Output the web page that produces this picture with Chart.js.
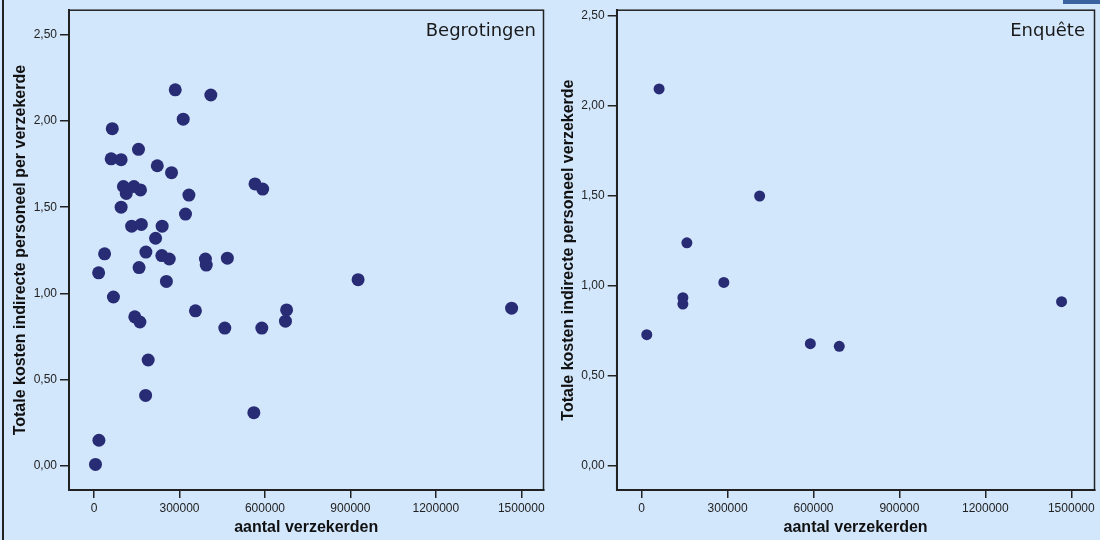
<!DOCTYPE html>
<html>
<head>
<meta charset="utf-8">
<script src="https://cdn.jsdelivr.net/npm/chart.js@4/dist/chart.umd.min.js"></script>
<style>
  body { margin: 0; background: #d3e7fc; width: 1100px; height: 540px; overflow: hidden; position: relative; }
  canvas { position: absolute; top: 0; }
  #c1 { left: 0; }
  #c2 { left: 550px; }
  .frame { position: absolute; left: 2px; top: 0; width: 2px; height: 540px; background: #222; }
  .corner { position: absolute; left: 1063px; top: 0; width: 37px; height: 4px; background: #3a64a0; }
</style>
</head>
<body>
<div class="frame"></div>
<div class="corner"></div>
<canvas id="c1" width="550" height="540"></canvas>
<canvas id="c2" width="550" height="540"></canvas>
<script>
// Begrotingen (left)
var begX = [5000, 17000, 16000, 37000, 68000, 95000, 132000, 166000, 239000, 216000,
            182000, 238000, 264000, 158000, 254000, 321000, 391000, 394000, 468000, 143000,
            161000, 356000, 459000, 589000, 676000, 672000, 190000, 181000, 561000, 64000,
            60000, 95000, 156000, 222000, 272000, 285000, 313000, 410000, 103000, 113000,
            140000, 163000, 333000, 565000, 592000, 927000, 1466000];
var begY = [0.01, 0.15, 1.12, 1.23, 0.98, 1.50, 1.39, 1.40, 1.39, 1.32,
            1.24, 1.22, 1.20, 1.15, 1.07, 1.46, 1.20, 1.165, 1.205, 0.865,
            0.835, 0.90, 0.80, 0.80, 0.905, 0.84, 0.615, 0.41, 0.31, 1.955,
            1.78, 1.775, 1.835, 1.74, 1.70, 2.18, 2.01, 2.15, 1.62, 1.58,
            1.62, 1.60, 1.57, 1.635, 1.605, 1.08, 0.915];

// Enquête (right)
var enqX = [18000, 61000, 144000, 144000, 158000, 287000, 412000, 589000, 690000, 1466000];
var enqY = [0.73, 2.095, 0.935, 0.90, 1.24, 1.02, 1.50, 0.68, 0.665, 0.913];

var xTicks = [0, 300000, 600000, 900000, 1200000, 1500000];
var yTicks = [0, 0.5, 1, 1.5, 2, 2.5];

var dotColor = '#282c74';
var ink = '#222';

function points(xs, ys) {
    return xs.map(function(x, i) { return { x: x, y: ys[i] }; });
}

var boxPlugin = {
    id: 'box',
    beforeDatasetsDraw: function(chart, args, opts) {
        var a = chart.chartArea, ctx = chart.ctx;
        ctx.save();
        ctx.strokeStyle = ink;
        ctx.lineWidth = 1.5;
        ctx.strokeRect(a.left, a.top, a.right - a.left, a.bottom - a.top);
        ctx.font = '18px "DejaVu Sans"';
        ctx.fillStyle = '#1a1a1a';
        ctx.textAlign = 'right';
        ctx.textBaseline = 'alphabetic';
        ctx.fillText(opts.text, opts.tx, opts.ty);
        ctx.restore();
    }
};

function makeChart(id, xs, ys, cfg) {
    var ctx = document.getElementById(id).getContext('2d');
    return new Chart(ctx, {
        type: 'scatter',
        data: {
            datasets: [{
                data: points(xs, ys),
                backgroundColor: dotColor,
                borderColor: dotColor,
                borderWidth: 0,
                pointRadius: cfg.radius,
                pointHoverRadius: cfg.radius
            }]
        },
        plugins: [boxPlugin],
        options: {
            responsive: false,
            animation: false,
            events: [],
            layout: { padding: { left: 0, top: 8.3, right: cfg.padRight, bottom: 0 } },
            plugins: {
                legend: { display: false },
                tooltip: { enabled: false },
                box: { text: cfg.label, tx: cfg.tx, ty: 36 }
            },
            scales: {
                x: {
                    type: 'linear',
                    min: cfg.xMin,
                    max: cfg.xMax,
                    afterBuildTicks: function(s) { s.ticks = xTicks.map(function(v) { return { value: v }; }); },
                    afterFit: function(s) { s.height = 50; },
                    border: { color: ink, width: 2 },
                    grid: { drawOnChartArea: false, drawTicks: true, tickLength: 8, color: ink, lineWidth: 1.5 },
                    ticks: {
                        padding: 3,
                        color: '#222',
                        maxRotation: 0,
                        autoSkip: false,
                        font: { family: '"Liberation Sans", Arial', size: 12 },
                        callback: function(v) { return String(v); }
                    },
                    title: {
                        display: true,
                        text: 'aantal verzekerden',
                        color: '#111',
                        padding: { top: 0, bottom: 3 },
                        font: { family: '"Liberation Sans", Arial', size: 16, weight: 'bold' }
                    }
                },
                y: {
                    type: 'linear',
                    min: cfg.yMin,
                    max: cfg.yMax,
                    afterBuildTicks: function(s) { s.ticks = yTicks.map(function(v) { return { value: v }; }); },
                    afterFit: function(s) { s.width = cfg.yWidth; },
                    border: { color: ink, width: 2 },
                    grid: { drawOnChartArea: false, drawTicks: true, tickLength: 9, color: ink, lineWidth: 1.5 },
                    ticks: {
                        padding: 3,
                        color: '#222',
                        autoSkip: false,
                        font: { family: '"Liberation Sans", Arial', size: 12 },
                        callback: function(v) { return v.toFixed(2).replace('.', ','); }
                    },
                    title: {
                        display: true,
                        text: cfg.yTitle,
                        color: '#111',
                        padding: { top: cfg.yTitlePad, bottom: 0 },
                        font: { family: '"Liberation Sans", Arial', size: 16, weight: 'bold' }
                    }
                }
            }
        }
    });
}

makeChart('c1', begX, begY, {
    radius: 6.5,
    label: 'Begrotingen', tx: 536,
    padRight: 1.7,
    yWidth: 69,
    xMin: -88000, xMax: 1578000,
    yMin: -0.138, yMax: 2.641,
    yTitle: 'Totale kosten indirecte personeel per verzekerde',
    yTitlePad: 11.4
});

makeChart('c2', enqX, enqY, {
    radius: 5.5,
    label: 'Enquête', tx: 535,
    padRight: 4,
    yWidth: 66.7,
    xMin: -87000, xMax: 1581000,
    yMin: -0.133, yMax: 2.532,
    yTitle: 'Totale kosten indirecte personeel verzekerde',
    yTitlePad: 9.4
});
</script>
</body>
</html>
